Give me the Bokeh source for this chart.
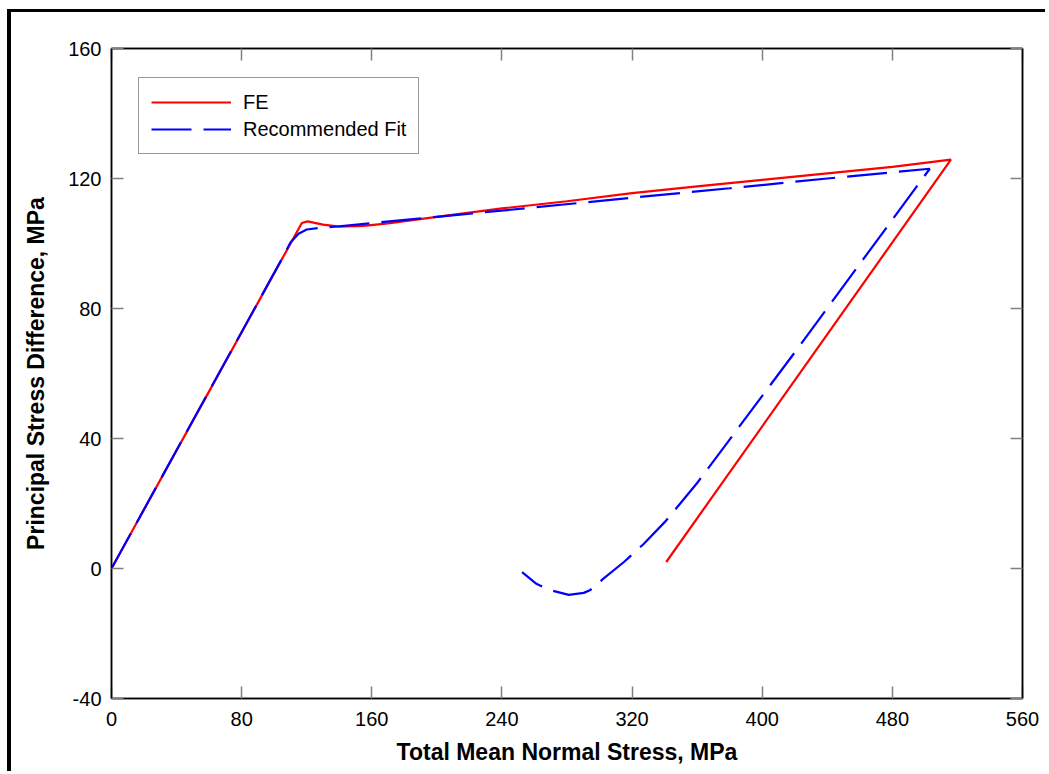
from bokeh.plotting import figure
from bokeh.models import Range1d, FixedTicker, Legend, LegendItem, LinearAxis
from bokeh.embed import file_html
from bokeh.resources import INLINE

# FE curve (total mean normal stress, principal stress difference), MPa
fe_x = [0, 60, 117, 120.5, 130, 140, 155, 170, 200, 240, 280, 320, 360, 400, 440, 480, 516, 341]
fe_y = [0, 54.5, 106.3, 106.8, 105.8, 105.2, 105.4, 106.2, 108.2, 110.8, 113.0, 115.5, 117.6, 119.6, 121.6, 123.6, 125.8, 2.0]

# Recommended fit curve
fit_x = [0, 60, 105, 110, 115, 120, 130, 140, 200, 260, 320, 380, 440, 503,
         420, 360, 340.5, 326.8, 315, 302.2, 294.4, 290.3, 281.1, 269.4, 261.2, 252.4]
fit_y = [0, 54.6, 95.5, 100.3, 103.0, 104.3, 104.9, 105.3, 108.2, 111.1, 114.1, 117.0, 120.0, 123.0,
         66.5, 26.3, 14.5, 7.4, 2.0, -3.2, -6.6, -7.5, -8.1, -6.6, -4.7, -1.1]

x_ticks = [0, 80, 160, 240, 320, 400, 480, 560]
y_ticks = [-40, 0, 40, 80, 120, 160]
x_tick_labels = ["0", "80", "160", "240", "320", "400", "480", "560"]
y_tick_labels = ["-40", "0", "40", "80", "120", "160"]

FONT = "Liberation Sans"

p = figure(width=1038, height=762, output_backend="svg", toolbar_location=None,
           x_range=Range1d(0, 560), y_range=Range1d(-40, 160),
           min_border_left=100, min_border_right=27, min_border_top=36, min_border_bottom=76,
           margin=(9, 0, 0, 7),
           styles={"border-left": "4px solid black", "border-top": "3px solid black"})

p.grid.visible = False
p.outline_line_color = "black"
p.outline_line_width = 1.5
p.background_fill_color = "white"
p.border_fill_color = "white"

for ax in (p.xaxis[0], p.yaxis[0]):
    ax.major_tick_in = 12
    ax.major_tick_out = 0
    ax.minor_tick_in = 0
    ax.minor_tick_out = 0
    ax.major_tick_line_color = "#808080"
    ax.major_tick_line_width = 1.5
    ax.axis_line_color = "black"
    ax.axis_line_width = 1.5
    ax.major_label_text_font = FONT
    ax.major_label_text_font_size = "20px"
    ax.major_label_text_color = "black"
    ax.axis_label_text_font = FONT
    ax.axis_label_text_font_style = "bold"
    ax.axis_label_text_font_size = "23px"
    ax.axis_label_text_color = "black"

p.xaxis[0].ticker = FixedTicker(ticks=x_ticks)
p.yaxis[0].ticker = FixedTicker(ticks=y_ticks)
p.xaxis[0].major_label_overrides = dict(zip(x_ticks, x_tick_labels))
p.yaxis[0].major_label_overrides = dict(zip(y_ticks, y_tick_labels))
p.xaxis[0].major_label_standoff = 13
p.yaxis[0].major_label_standoff = 10
p.xaxis[0].axis_label = "Total Mean Normal Stress, MPa"
p.yaxis[0].axis_label = "Principal Stress Difference, MPa"
p.xaxis[0].axis_label_standoff = 10
p.yaxis[0].axis_label_standoff = 16

# mirrored tick marks on top and right (no labels)
top = LinearAxis(ticker=FixedTicker(ticks=x_ticks),
                 major_label_overrides={t: "" for t in x_ticks},
                 major_tick_in=12, major_tick_out=0, minor_tick_in=0, minor_tick_out=0,
                 major_tick_line_color="#808080", major_tick_line_width=1.5,
                 axis_line_color="black", axis_line_width=1.5, major_label_standoff=0)
right = LinearAxis(ticker=FixedTicker(ticks=y_ticks),
                   major_label_overrides={t: "" for t in y_ticks},
                   major_tick_in=12, major_tick_out=0, minor_tick_in=0, minor_tick_out=0,
                   major_tick_line_color="#808080", major_tick_line_width=1.5,
                   axis_line_color="black", axis_line_width=1.5, major_label_standoff=0)
p.add_layout(top, "above")
p.add_layout(right, "right")

r_fe = p.line(fe_x, fe_y, line_color="#ff0000", line_width=2.2)
r_fit = p.line(fit_x, fit_y, line_color="#0000ff", line_width=2.2, line_dash="40 12")

legend = Legend(items=[LegendItem(label="FE", renderers=[r_fe]),
                       LegendItem(label="Recommended Fit", renderers=[r_fit])],
                location=(27, 544), orientation="vertical")
legend.label_text_font = FONT
legend.label_text_font_size = "20px"
legend.label_text_color = "black"
legend.glyph_width = 80
legend.glyph_height = 24
legend.label_height = 24
legend.label_standoff = 12
legend.spacing = 3
legend.padding = 12
legend.margin = 0
legend.border_line_color = "#333333"
legend.border_line_width = 1.5
legend.background_fill_alpha = 1
p.add_layout(legend)

open("out.html", "w").write(file_html(p, INLINE))
